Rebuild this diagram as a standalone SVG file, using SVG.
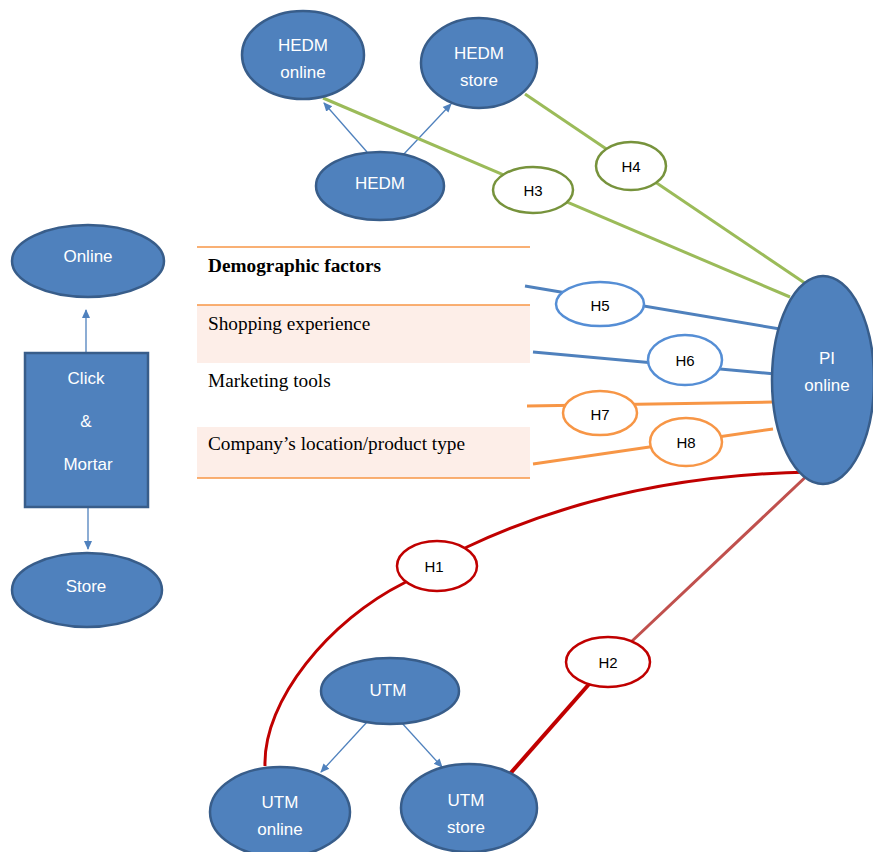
<svg xmlns="http://www.w3.org/2000/svg" width="873" height="852" viewBox="0 0 873 852">
<style>
.node{fill:#4F81BD;stroke:#385D8A;stroke-width:2.5}
.nt{font-family:"Liberation Sans",Arial,sans-serif;font-size:17px;fill:#fff;text-anchor:middle}
.ht{font-family:"Liberation Sans",Arial,sans-serif;font-size:15px;fill:#000;text-anchor:middle}
.tt{font-family:"Liberation Serif","Times New Roman",serif;font-size:19.3px;fill:#000}
.arr{stroke:#4F81BD;stroke-width:1.3;fill:none;marker-end:url(#ah)}
.hg{fill:#fff;stroke:#77933C;stroke-width:2.5}
.hb{fill:#fff;stroke:#558ED5;stroke-width:2.5}
.ho{fill:#fff;stroke:#F79646;stroke-width:2.5}
.hr{fill:#fff;stroke:#C00000;stroke-width:2.5}
.rule{stroke:#F79646;stroke-width:1.5}
</style>
<defs>
<marker id="ah" markerWidth="10" markerHeight="10" refX="8" refY="5" orient="auto" markerUnits="userSpaceOnUse">
<path d="M0,1 L9,5 L0,9 Z" fill="#4F81BD"/>
</marker>
</defs>

<g id="table">
<rect x="197" y="305" width="333" height="58" fill="#FDEEE8"/>
<rect x="197" y="427" width="333" height="51" fill="#FDEEE8"/>
<line class="rule" x1="197" y1="247" x2="530" y2="247"/>
<line class="rule" x1="197" y1="305" x2="530" y2="305"/>
<line class="rule" x1="197" y1="478" x2="530" y2="478"/>
<text class="tt" x="208" y="272" font-weight="bold">Demographic factors</text>
<text class="tt" x="208" y="330">Shopping experience</text>
<text class="tt" x="208" y="387">Marketing tools</text>
<text class="tt" x="208" y="450">Company’s location/product type</text>
</g>

<g id="connectors">
<line class="arr" x1="86" y1="352" x2="86" y2="310"/>
<line class="arr" x1="88" y1="507" x2="88" y2="549"/>
<line class="arr" x1="367" y1="152" x2="324" y2="103"/>
<line class="arr" x1="403" y1="155" x2="451" y2="104"/>
<line class="arr" x1="367" y1="722" x2="321" y2="772"/>
<line class="arr" x1="401" y1="722" x2="442" y2="767"/>
<line x1="323" y1="98" x2="790" y2="297" stroke="#9BBB59" stroke-width="3"/>
<line x1="525" y1="94" x2="818" y2="292" stroke="#9BBB59" stroke-width="3"/>
<line x1="525" y1="286" x2="798" y2="332" stroke="#4F81BD" stroke-width="3"/>
<line x1="533" y1="352" x2="786" y2="375" stroke="#4F81BD" stroke-width="3"/>
<line x1="527" y1="406" x2="773" y2="402" stroke="#F79646" stroke-width="3"/>
<line x1="533" y1="464" x2="773" y2="429" stroke="#F79646" stroke-width="3"/>
<path d="M265,766 C263,700 330,620 404,583 L467,547 Q620,475 811,472" fill="none" stroke="#C00000" stroke-width="3"/>
<line x1="509" y1="775" x2="590" y2="683" stroke="#C00000" stroke-width="4"/>
<line x1="630" y1="643" x2="813" y2="470" stroke="#C0504D" stroke-width="3"/>
</g>

<g id="online"><ellipse class="node" cx="88" cy="261" rx="76" ry="36"/><text class="nt" x="88" y="262">Online</text></g>
<g id="clickmortar"><rect class="node" x="25" y="353" width="123" height="154"/><text class="nt" x="86" y="384">Click</text><text class="nt" x="86" y="427">&amp;</text><text class="nt" x="88" y="470">Mortar</text></g>
<g id="store"><ellipse class="node" cx="87" cy="590" rx="75" ry="37"/><text class="nt" x="86" y="592">Store</text></g>

<g id="hedm-online"><ellipse class="node" cx="303" cy="55" rx="61" ry="44"/><text class="nt" x="303" y="51">HEDM</text><text class="nt" x="303" y="78">online</text></g>
<g id="hedm-store"><ellipse class="node" cx="479" cy="63" rx="58" ry="45"/><text class="nt" x="479" y="59">HEDM</text><text class="nt" x="479" y="86">store</text></g>
<g id="hedm"><ellipse class="node" cx="380" cy="186" rx="64" ry="34"/><text class="nt" x="380" y="189">HEDM</text></g>

<g id="pi-online"><ellipse class="node" cx="823" cy="380" rx="51" ry="104"/><text class="nt" x="827" y="364">PI</text><text class="nt" x="827" y="391">online</text></g>

<g id="utm"><ellipse class="node" cx="390" cy="691" rx="69" ry="33"/><text class="nt" x="388" y="696">UTM</text></g>
<g id="utm-online"><ellipse class="node" cx="280" cy="812" rx="70" ry="45"/><text class="nt" x="280" y="808">UTM</text><text class="nt" x="280" y="835">online</text></g>
<g id="utm-store"><ellipse class="node" cx="469" cy="808" rx="68" ry="44"/><text class="nt" x="466" y="806">UTM</text><text class="nt" x="466" y="833">store</text></g>

<g id="h3"><ellipse class="hg" cx="533" cy="190" rx="40" ry="23"/><text class="ht" x="533" y="196">H3</text></g>
<g id="h4"><ellipse class="hg" cx="631" cy="166" rx="35" ry="24"/><text class="ht" x="631" y="172">H4</text></g>
<g id="h5"><ellipse class="hb" cx="600" cy="304" rx="44" ry="22"/><text class="ht" x="600" y="311">H5</text></g>
<g id="h6"><ellipse class="hb" cx="685" cy="360" rx="37" ry="25"/><text class="ht" x="685" y="366">H6</text></g>
<g id="h7"><ellipse class="ho" cx="600" cy="413" rx="37" ry="22"/><text class="ht" x="600" y="420">H7</text></g>
<g id="h8"><ellipse class="ho" cx="686" cy="442" rx="36" ry="24"/><text class="ht" x="686" y="448">H8</text></g>
<g id="h1"><ellipse class="hr" cx="437" cy="566" rx="40" ry="25"/><text class="ht" x="434" y="572">H1</text></g>
<g id="h2"><ellipse class="hr" cx="608" cy="662" rx="42" ry="25"/><text class="ht" x="608" y="668">H2</text></g>
</svg>
